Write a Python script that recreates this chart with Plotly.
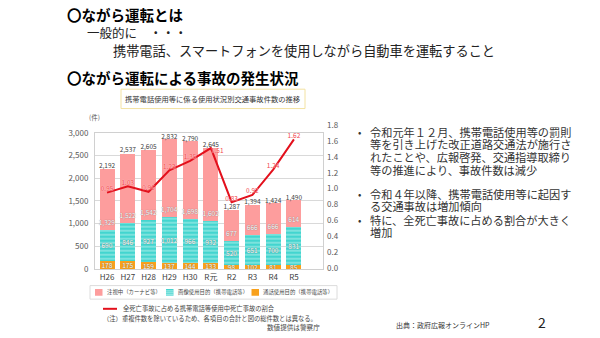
import plotly.graph_objects as go

# Fiscal years
years = ["H26", "H27", "H28", "H29", "H30", "R元", "R2", "R3", "R4", "R5"]
# Accident counts by usage type (件)
call_use = [178, 175, 159, 137, 144, 133, 98, 102, 81, 85]          # 通話使用目的
image_use = [690, 846, 927, 1012, 966, 932, 520, 651, 700, 831]     # 画像使用目的
gazing = [1329, 1522, 1542, 1704, 1698, 1602, 677, 666, 666, 614]   # 注視中
totals = [2192, 2537, 2605, 2832, 2790, 2645, 1287, 1394, 1424, 1490]
# Share of fatal accidents involving phone use (%)
fatal_share = [0.95, 1.03, 0.96, 1.23, 1.35, 1.51, 0.83, 0.92, 1.24, 1.62]
left_ticks = [0, 500, 1000, 1500, 2000, 2500, 3000]
right_ticks = [0.0, 0.2, 0.4, 0.6, 0.8, 1.0, 1.2, 1.4, 1.6, 1.8]

FONT = "Noto Sans CJK JP"
PINK = "#fd9d9d"
TEAL = "#43d5cf"
ORANGE = "#f8a11c"
RED = "#e3101c"

W, H = 600, 338


def px(x):
    return x / W


def py(y):
    return 1 - y / H


label_font = dict(family=FONT, size=6.5, color="white",
                  shadow="0px 0px 1px #555")

fig = go.Figure()


def seg(values, marker, anchor="middle"):
    fig.add_trace(go.Bar(
        x=years, y=values, marker=marker,
        text=[f"{v:,}" for v in values], textposition="inside",
        insidetextanchor=anchor, constraintext="none", textangle=0,
        textfont=label_font, width=0.72, showlegend=False,
        hoverinfo="skip"))


seg(call_use, dict(color=ORANGE, line=dict(width=0)))
seg(image_use, dict(color=TEAL, line=dict(width=0),
                    pattern=dict(shape="-", fgcolor="white", bgcolor=TEAL,
                                 size=4, solidity=0.3)))
seg(gazing, dict(color=PINK, line=dict(width=0)), anchor="start")

# total labels above each bar
fig.add_trace(go.Scatter(
    x=years, y=totals, mode="text", text=[f"{v:,}" for v in totals],
    textposition="top center",
    textfont=dict(family=FONT, size=6.5, color="#404040"),
    showlegend=False, hoverinfo="skip", cliponaxis=False))

# fatal-accident share line on the secondary axis
fig.add_trace(go.Scatter(
    x=years, y=fatal_share, mode="lines+text", yaxis="y2",
    line=dict(color=RED, width=2),
    text=[f"{v:.2f}" for v in fatal_share],
    textposition=["top center"] * 5 + ["bottom right"] + ["top center"] * 4,
    textfont=dict(family=FONT, size=6.5, color="#f2464e",
                  shadow="0px 0px 1px white"),
    showlegend=False, hoverinfo="skip", cliponaxis=False))

fig.update_layout(
    width=W, height=H, autosize=False,
    margin=dict(l=0, r=0, t=0, b=0),
    paper_bgcolor="white", plot_bgcolor="rgba(0,0,0,0)",
    barmode="stack", bargap=0.28,
    font=dict(family=FONT, color="#404040"),
    xaxis=dict(domain=[px(95), px(323)], range=[-0.58, 10.4],
               type="category", showgrid=False,
               showline=True, linecolor="#d0d0d0", linewidth=1, mirror=True,
               ticks="", tickfont=dict(size=8, color="#404040"),
               anchor="y"),
    yaxis=dict(domain=[py(272), py(131)], range=[0, 3000],
               tickvals=left_ticks, tickformat=",",
               showgrid=True, gridcolor="#d9d9d9", gridwidth=1,
               zeroline=False, showline=True, linecolor="#d0d0d0",
               mirror=True, ticks="", ticklabelstandoff=4,
               tickfont=dict(size=8, color="#595959"), anchor="x"),
    yaxis2=dict(domain=[py(271), py(123)], range=[0, 1.8],
                tickvals=right_ticks, tickformat=".1f",
                side="right", anchor="free", position=px(326),
                showgrid=False, zeroline=False, showline=False, ticks="",
                tickfont=dict(size=8, color="#595959")),
)

shapes = []
ann = []


def text(x, y, s, size, color="#222", bold=False, anchor="left"):
    ann.append(dict(x=px(x), y=py(y), xref="paper", yref="paper",
                    text=f"<b>{s}</b>" if bold else s, showarrow=False,
                    xanchor=anchor, yanchor="middle", borderpad=0,
                    font=dict(family=FONT, size=size, color=color)))


# headings
text(66, 9, "〇ながら運転とは", 14.5, "#000", bold=True)
text(86, 27, "一般的に　・・・", 12.5, "#222")
text(112, 46, "携帯電話、スマートフォンを使用しながら自動車を運転すること", 13.2, "#222")
text(66, 74, "〇ながら運転による事故の発生状況", 14.5, "#000", bold=True)

# chart title box
shapes.append(dict(type="rect", xref="paper", yref="paper",
                   x0=px(121), x1=px(305), y0=py(86), y1=py(106),
                   line=dict(color="#f3e2a2", width=1), fillcolor="white"))
text(213, 96, "携帯電話使用等に係る使用状況別交通事故件数の推移", 7.3, "#333",
     anchor="center")
text(88, 115, "(件)", 6.5, "#555")

# legend box
shapes.append(dict(type="rect", xref="paper", yref="paper",
                   x0=px(90), x1=px(337), y0=py(289), y1=py(303),
                   line=dict(color="#dcdcdc", width=1), fillcolor="white"))
shapes.append(dict(type="rect", xref="paper", yref="paper",
                   x0=px(95), x1=px(102.5), y0=py(292.5), y1=py(299.5),
                   line=dict(width=0), fillcolor=PINK))
text(106, 296, "注視中（カーナビ等）", 5.4, "#444")
shapes.append(dict(type="rect", xref="paper", yref="paper",
                   x0=px(166), x1=px(173.5), y0=py(292.5), y1=py(299.5),
                   line=dict(width=0), fillcolor=TEAL))
for yy in (294.5, 296.5, 298.5):
    shapes.append(dict(type="line", xref="paper", yref="paper",
                       x0=px(166), x1=px(173.5), y0=py(yy), y1=py(yy),
                       line=dict(color="white", width=0.6)))
text(177, 296, "画像使用目的（携帯電話等）", 5.4, "#444")
shapes.append(dict(type="rect", xref="paper", yref="paper",
                   x0=px(251.5), x1=px(259), y0=py(292.5), y1=py(299.5),
                   line=dict(width=0), fillcolor=ORANGE))
text(262, 296, "通話使用目的（携帯電話等）", 5.4, "#444")

# line legend and notes
shapes.append(dict(type="line", xref="paper", yref="paper",
                   x0=px(103), x1=px(117), y0=py(313), y1=py(313),
                   line=dict(color=RED, width=2)))
text(122, 313, "全死亡事故に占める携帯電話等使用中死亡事故の割合", 6.3, "#444")
text(102, 323, "（注）重複件数を除いているため、各項目の合計と図の総件数とは異なる。", 6.3, "#444")
text(266, 332, "数値提供は警察庁", 6.6, "#444")

# bullet points: (y, text, starts a new bullet)
bullets = [
    (130, "令和元年１２月、携帯電話使用等の罰則", True),
    (143, "等を引き上げた改正道路交通法が施行さ", False),
    (156, "れたことや、広報啓発、交通指導取締り", False),
    (169, "等の推進により、事故件数は減少", False),
    (194, "令和４年以降、携帯電話使用等に起因す", True),
    (207, "る交通事故は増加傾向", False),
    (221, "特に、全死亡事故に占める割合が大きく", True),
    (234, "増加", False),
]
for y, s, first in bullets:
    if first:
        text(357, y, "•", 10, "#333")
    text(369, y, s, 11.2, "#333")

# footer
text(395, 330, "出典：政府広報オンラインHP", 7, "#333")
text(537, 327, "2", 14, "#222")

fig.update_layout(shapes=shapes, annotations=ann)
fig.write_html("out.html")
